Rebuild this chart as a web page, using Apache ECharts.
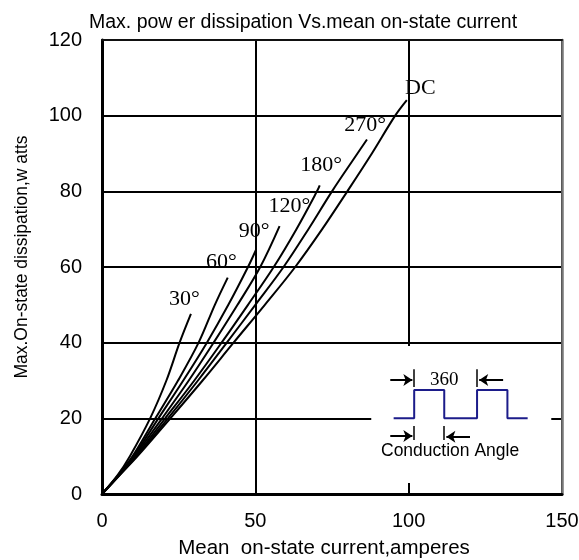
<!DOCTYPE html>
<html><head><meta charset="utf-8">
<script src="https://cdn.jsdelivr.net/npm/echarts@6/dist/echarts.min.js"></script>
<style>html,body{margin:0;padding:0;background:#fff}#c{width:579px;height:560px}</style>
</head><body><div id="c"></div>
<script>
// ---- data ----
const xTicks = [0, 50, 100, 150];
const yTicks = [0, 20, 40, 60, 80, 100, 120];
const deg30  = [[0,0],[5.1,5],[9.1,10],[15.7,20],[21.0,30],[25.3,40],[29.0,47.6]];
const deg60  = [[0,0],[5.3,5],[10.0,10],[17.4,20],[24.8,30],[31.5,40],[36.8,50],[41.0,57.2]];
const deg90  = [[0,0],[5.4,5],[10.3,10],[18.4,20],[26.5,30],[34.2,40],[41.2,50],[47.6,60],[50.2,64.5]];
const deg120 = [[0,0],[5.5,5],[10.6,10],[19.6,20],[28.3,30],[36.4,40],[44.2,50],[51.6,60],[57.9,70.8]];
const deg180 = [[0,0],[5.6,5],[11.0,10],[20.6,20],[30.1,30],[39.0,40],[47.6,50],[56.0,60],[63.4,70],[70.1,80],[71.0,81.6]];
const deg270 = [[0,0],[5.7,5],[11.3,10],[21.5,20],[31.3,30],[40.7,40],[50.0,50],[59.2,60],[67.3,70],[75.0,80],[83.3,90],[86.4,93.7]];
const degDC  = [[0,0],[5.8,5],[11.6,10],[22.3,20],[32.8,30],[42.9,40],[53.1,50],[63.0,60],[71.8,70],[80.0,80],[88.0,90],[95.6,100],[99.4,104.1]];
const curveLabels = [[26.9,51.5,'30°'],[38.9,61.3,'60°'],[49.6,69.4,'90°'],[61.1,76.0,'120°'],[71.5,86.8,'180°'],[85.8,97.6,'270°'],[103.8,107.2,'DC']];
// inset (conduction angle sketch)
const insetBox = [[87.8,39.1],[146.5,2.9]];
const squareWave = [[95.1,20],[101.8,20],[101.8,27.5],[111.6,27.5],[111.6,20],[122.3,20],[122.3,27.5],[132.2,27.5],[132.2,20],[138.8,20]];
const insetBars = [[[101.8,33.0],[101.8,28.3]],[[122.3,33.0],[122.3,28.3]],[[101.8,18.0],[101.8,14.3]],[[111.6,18.0],[111.6,14.3]]];
const insetArrows = [[[94.0,30.1],[101.2,30.1]],[[130.8,30.1],[123.0,30.1]],[[94.0,15.3],[101.2,15.3]],[[120.0,15.1],[112.3,15.1]]];
const insetTexts = [[111.6,30.1,'360'],[113.5,11.4,'Conduction Angle']];

const sans = 'Liberation Sans, Arial, sans-serif';
const serif = 'Liberation Serif, Times New Roman, serif';
const curves = [deg30,deg60,deg90,deg120,deg180,deg270,degDC];

const chart = echarts.init(document.getElementById('c'), null, {renderer:'canvas'});
const series = curves.map(d => ({
  type:'line', data:d, smooth:0.35, symbol:'none', z:5,
  lineStyle:{color:'#000', width:2}
}));
series.push({
  type:'scatter', symbolSize:0, z:6, data:curveLabels, itemStyle:{opacity:1},
  label:{show:true, position:[0,0], align:'center', verticalAlign:'middle', opacity:1,
    formatter:p=>p.value[2], color:'#000', fontFamily:serif, fontSize:22}
});
series.push({
  type:'line', data:[], z:3,
  markArea:{silent:true, itemStyle:{color:'#fff', opacity:1}, data:[[{coord:insetBox[0]},{coord:insetBox[1]}]]}
});
series.push({
  type:'line', data:squareWave, symbol:'none', z:7, lineStyle:{color:'#1c1c8a', width:2}
});
series.push({
  type:'lines', coordinateSystem:'cartesian2d', z:7, symbol:['none','none'],
  lineStyle:{color:'#000', width:1.5, opacity:1},
  data:insetBars.map(c=>({coords:c}))
});
series.push({
  type:'lines', coordinateSystem:'cartesian2d', z:7, symbol:['none','arrow'], symbolSize:9,
  lineStyle:{color:'#000', width:2, opacity:1},
  data:insetArrows.map(c=>({coords:c}))
});
series.push({
  type:'scatter', symbolSize:0, z:8, itemStyle:{opacity:1},
  data:insetTexts.map((t,i)=>({value:t, label:{fontFamily: i===0?serif:sans, fontSize: i===0?19:17.5}})),
  label:{show:true, position:[0,0], align:'center', verticalAlign:'middle', opacity:1,
    formatter:p=>p.value[2], color:'#000'}
});

chart.setOption({
  animation:false,
  backgroundColor:'#fff',
  title:{text:'Max. pow er dissipation Vs.mean on-state current', left:84, top:8,
    textStyle:{fontFamily:sans, fontSize:19.5, fontWeight:'normal', color:'#000'}},
  grid:{left:102, right:17, top:40, bottom:66, containLabel:false, outerBoundsMode:'none'},
  xAxis:[{
    type:'value', min:xTicks[0], max:xTicks[xTicks.length-1], interval:50,
    name:'Mean  on-state current,amperes', nameLocation:'middle', nameGap:44,
    nameTextStyle:{fontFamily:sans, fontSize:20.5, color:'#000', padding:[0,16,0,0]},
    axisLine:{lineStyle:{color:'#000', width:3}},
    axisTick:{show:false},
    axisLabel:{fontFamily:sans, fontSize:20, color:'#000', margin:17},
    splitLine:{show:true, lineStyle:{color:'#000', width:2}}
  },{
    type:'value', position:'top', min:0, max:150, interval:50,
    axisLine:{show:true, onZero:false, lineStyle:{color:'#111', width:2}},
    axisTick:{show:false}, axisLabel:{show:false}, splitLine:{show:false}
  }],
  yAxis:[{
    type:'value', min:yTicks[0], max:yTicks[yTicks.length-1], interval:20,
    name:'Max.On-state dissipation,w atts', nameLocation:'middle', nameGap:71,
    nameTextStyle:{fontFamily:sans, fontSize:17.5, color:'#000', padding:[0,0,0,20]},
    axisLine:{show:true, lineStyle:{color:'#000', width:3}},
    axisTick:{show:false},
    axisLabel:{fontFamily:sans, fontSize:20, color:'#000', margin:20},
    splitLine:{show:true, lineStyle:{color:'#000', width:2}}
  },{
    type:'value', position:'right', min:0, max:120, interval:20,
    axisLine:{show:true, onZero:false, lineStyle:{color:'#777', width:2.5}},
    axisTick:{show:false}, axisLabel:{show:false}, splitLine:{show:false}
  }],
  series:series
});
</script></body></html>
